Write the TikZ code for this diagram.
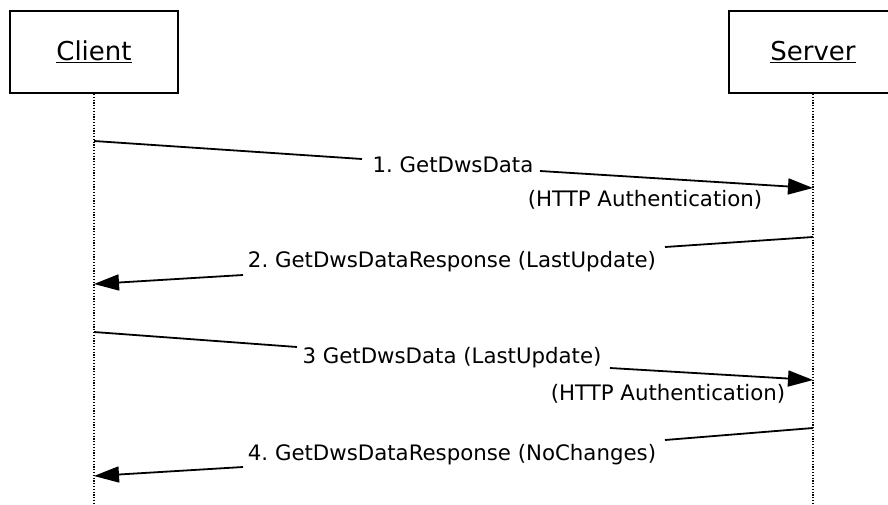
\documentclass[tikz,border=0pt]{standalone}
\usepackage{fontspec}
\setmainfont{DejaVu Sans}
\usetikzlibrary{arrows.meta,positioning}
\frenchspacing

\tikzset{
  actor/.style={draw, line width=1.8pt, minimum width=168, minimum height=82, inner sep=0pt, font=\fontsize{26}{30}\selectfont},
  lifeline/.style={line width=1.3pt, dash pattern=on 1.3pt off 1.5pt},
  msg/.style={line width=1.8pt},
  msgarrow/.style={msg, -{Triangle[length=25pt,width=16pt]}},
  msglabel/.style={anchor=base, inner sep=0pt, font=\fontsize{21.3}{25}\selectfont}
}

\begin{document}
\begin{tikzpicture}[x=1pt,y=-1pt]
    \useasboundingbox (0,0) rectangle (888,504);

    % Actors
    \node[actor] (client) at (94,52) {\underline{Client}};
    \node[actor] (server) at (813,52) {\underline{Server}};

    % Lifelines
    \coordinate (cend) at (94,504);
    \coordinate (send) at (813,504);
    \draw[lifeline] (client) -- (cend);
    \draw[lifeline] (server) -- (send);

    % Points on the lifelines
    \coordinate (c1) at (94,141);  \coordinate (s1) at (813,188);
    \coordinate (s2) at (813,237); \coordinate (c2) at (94,284);
    \coordinate (c3) at (94,332);  \coordinate (s3) at (813,380);
    \coordinate (s4) at (813,428); \coordinate (c4) at (94,476);

    % 1. request
    \node[msglabel] (m1) at (453,172) {1. GetDwsData};
    \node[msglabel] (a1) at (645,206) {(HTTP Authentication)};
    \coordinate (m1in) at (362,159);
    \coordinate (m1out) at (540,171);
    \draw[msg] (c1) -- (m1in);
    \draw[msgarrow] (m1out) -- (s1);

    % 2. response
    \node[msglabel] (m2) at (452,267) {2. GetDwsDataResponse (LastUpdate)};
    \coordinate (m2in) at (665,247);
    \coordinate (m2out) at (243,275);
    \draw[msg] (s2) -- (m2in);
    \draw[msgarrow] (m2out) -- (c2);

    % 3. request
    \node[msglabel] (m3) at (452,363) {3 GetDwsData (LastUpdate)};
    \node[msglabel] (a3) at (668,400) {(HTTP Authentication)};
    \coordinate (m3in) at (297,347);
    \coordinate (m3out) at (610,368);
    \draw[msg] (c3) -- (m3in);
    \draw[msgarrow] (m3out) -- (s3);

    % 4. response
    \node[msglabel] (m4) at (452,460) {4. GetDwsDataResponse (NoChanges)};
    \coordinate (m4in) at (665,440);
    \coordinate (m4out) at (243,467);
    \draw[msg] (s4) -- (m4in);
    \draw[msgarrow] (m4out) -- (c4);
\end{tikzpicture}
\end{document}
